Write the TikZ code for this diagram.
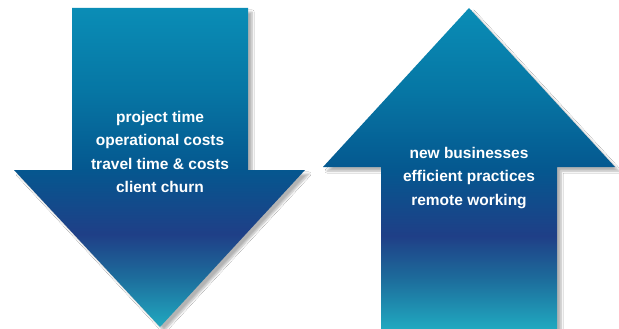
\documentclass[tikz,border=0pt]{standalone}
\usepackage{fontspec}
\setmainfont{Liberation Sans}
\usetikzlibrary{shadows.blur}
\definecolor{cA}{HTML}{0A8DB6}
\definecolor{cB}{HTML}{0676A4}
\definecolor{cC}{HTML}{05578F}
\definecolor{cD}{HTML}{1F3F87}
\definecolor{cE}{HTML}{1D6B9B}
\definecolor{cF}{HTML}{20A9C0}
\pgfdeclareverticalshading{arrowshade}{100bp}{
  color(0bp)=(cF); color(25bp)=(cF); color(33bp)=(cE); color(39.5bp)=(cD);
  color(49.6bp)=(cC); color(62bp)=(cB); color(75bp)=(cA); color(100bp)=(cA)}
\begin{document}
\begin{tikzpicture}[x=1pt,y=-1pt,
  arrowbody/.style={shading=arrowshade,
    blur shadow={shadow xshift=4pt, shadow yshift=-4pt, shadow blur steps=6, shadow opacity=30}},
  arrowtext/.style={text=white, font=\bfseries\fontsize{15.5}{23.3}\selectfont, align=center, inner sep=0pt}]
\useasboundingbox[fill=white] (0,0) rectangle (619,329);
\shade[arrowbody] (72,8) -- (248,8) -- (248,170) -- (305,170) -- (160,327) -- (14,170) -- (72,170) -- cycle;
\shade[arrowbody] (469,8) -- (615,167) -- (557,167) -- (557,329) -- (381,329) -- (381,167) -- (323,167) -- cycle;
\node[arrowtext] (down) at (160,152) {project time\\operational costs\\travel time \& costs\\client churn};
\node[arrowtext] (up) at (469,178) {new businesses\\efficient practices\\remote working};
\end{tikzpicture}
\end{document}
